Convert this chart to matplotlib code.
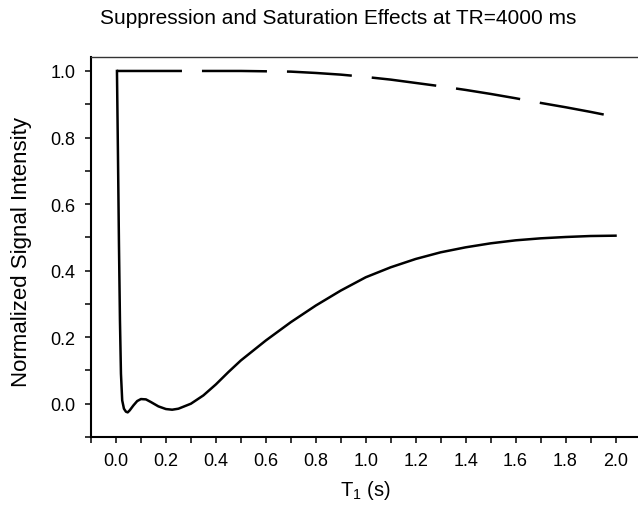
import matplotlib
matplotlib.use("Agg")
import matplotlib.pyplot as plt
from matplotlib.ticker import MultipleLocator

plt.rcParams['font.family'] = ['Liberation Sans', 'DejaVu Sans']
plt.rcParams['mathtext.default'] = 'regular'

# T1 (s) vs normalized signal
t1_solid = [0.004, 0.008, 0.012, 0.016, 0.020, 0.025, 0.032, 0.040, 0.047, 0.055,
            0.070, 0.085, 0.100, 0.120, 0.140, 0.170, 0.200, 0.225, 0.250, 0.300,
            0.350, 0.400, 0.450, 0.500, 0.550, 0.600, 0.700, 0.800, 0.900, 1.000,
            1.100, 1.200, 1.300, 1.400, 1.500, 1.600, 1.700, 1.800, 1.900, 2.000]
sig_solid = [1.000, 0.750, 0.480, 0.250, 0.090, 0.010, -0.015, -0.024, -0.026, -0.020,
             -0.005, 0.008, 0.014, 0.013, 0.005, -0.008, -0.016, -0.018, -0.015, 0.000,
             0.025, 0.058, 0.095, 0.130, 0.160, 0.190, 0.245, 0.295, 0.340, 0.380,
             0.410, 0.435, 0.455, 0.470, 0.482, 0.491, 0.497, 0.501, 0.504, 0.505]

t1_dash = [0.004, 0.1, 0.2, 0.3, 0.4, 0.5, 0.6, 0.7, 0.8, 0.9, 1.0,
           1.1, 1.2, 1.3, 1.4, 1.5, 1.6, 1.7, 1.8, 1.9, 2.0]
sig_dash = [1.000, 1.000, 1.000, 1.000, 1.000, 1.000, 0.999, 0.998, 0.994, 0.989, 0.982,
            0.974, 0.964, 0.954, 0.943, 0.931, 0.918, 0.904, 0.891, 0.877, 0.862]

fig = plt.figure(figsize=(6.38, 5.06), dpi=100)
ax = fig.add_axes([0.1426, 0.1344, 0.8613, 0.751])

ax.plot(t1_dash, sig_dash, color='black', lw=1.8, dashes=(26, 8))
ax.plot(t1_solid, sig_solid, color='black', lw=1.8)

ax.set_xlim(-0.1, 2.1)
ax.set_ylim(-0.1, 1.042)
ax.xaxis.set_minor_locator(MultipleLocator(0.1))
ax.yaxis.set_minor_locator(MultipleLocator(0.1))
ax.set_xticks([i / 10 for i in range(0, 21, 2)])
ax.set_xticklabels(['%.1f' % (i / 10) for i in range(0, 21, 2)])
ax.set_yticks([i / 10 for i in range(0, 11, 2)])
ax.set_yticklabels(['%.1f' % (i / 10) for i in range(0, 11, 2)])
ax.tick_params(which='both', direction='out', length=4.5, width=1.1,
               top=False, right=False)
ax.tick_params(which='major', labelsize=13, pad=6.5)

ax.spines['right'].set_visible(False)
ax.spines['left'].set_linewidth(1.5)
ax.spines['bottom'].set_linewidth(1.5)
ax.spines['top'].set_linewidth(1.0)
ax.spines['top'].set_color('#333333')

ax.set_xlabel(r'T$_1$ (s)', fontsize=14.5)
ax.xaxis.set_label_coords(0.5, -0.108)
ax.set_ylabel('Normalized Signal Intensity', fontsize=16)
ax.yaxis.set_label_coords(-0.107, 0.49)
fig.text(338 / 638, 1 - 18 / 506, 'Suppression and Saturation Effects at TR=4000 ms',
         ha='center', va='center', fontsize=15)

plt.savefig("out.png", dpi=100)
